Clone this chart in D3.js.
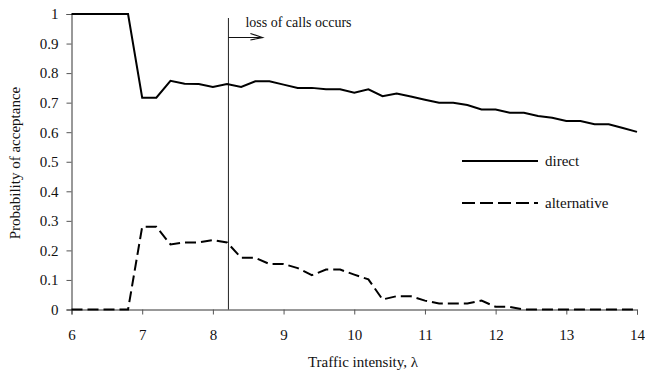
<!DOCTYPE html>
<html>
<head>
<meta charset="utf-8">
<script src="https://cdn.jsdelivr.net/npm/d3@7"></script>
<style>
  body { margin: 0; background: #fff; }
  text { font-family: "Liberation Serif", "DejaVu Serif", serif; fill: #111; }
</style>
</head>
<body>
<div id="chart"></div>
<script>
// traffic intensity values (lambda)
var lambdas = [6.0, 6.2, 6.4, 6.6, 6.8, 7.0, 7.2, 7.4, 7.6, 7.8, 8.0, 8.2, 8.4, 8.6, 8.8,
    9.0, 9.2, 9.4, 9.6, 9.8, 10.0, 10.2, 10.4, 10.6, 10.8, 11.0, 11.2, 11.4, 11.6, 11.8,
    12.0, 12.2, 12.4, 12.6, 12.8, 13.0, 13.2, 13.4, 13.6, 13.8, 14.0];

// probability of acceptance, direct route
var direct = [1, 1, 1, 1, 1, 0.717, 0.717, 0.774, 0.764, 0.763, 0.753, 0.763, 0.753, 0.772, 0.772,
    0.761, 0.750, 0.750, 0.745, 0.745, 0.734, 0.745, 0.722, 0.731, 0.721, 0.710, 0.700, 0.700, 0.692, 0.677,
    0.677, 0.666, 0.666, 0.655, 0.649, 0.638, 0.638, 0.627, 0.627, 0.614, 0.601];

// probability of acceptance, alternative route
var alternative = [0, 0, 0, 0, 0, 0.28, 0.28, 0.22, 0.227, 0.227, 0.235, 0.227, 0.175, 0.175, 0.154,
    0.154, 0.14, 0.116, 0.135, 0.135, 0.118, 0.102, 0.034, 0.045, 0.045, 0.03, 0.02, 0.02, 0.02, 0.03,
    0.009, 0.009, 0, 0, 0, 0, 0, 0, 0, 0, 0];

var xTicks = [6, 7, 8, 9, 10, 11, 12, 13, 14];
var yTicks = [0, 0.1, 0.2, 0.3, 0.4, 0.5, 0.6, 0.7, 0.8, 0.9, 1];
var lossStart = 8.22;

var svgWidth = 645;
var svgHeight = 381;

var margin = { top: 14, right: 8, bottom: 71.5, left: 71.5 };
var width = svgWidth - margin.left - margin.right;
var height = svgHeight - margin.top - margin.bottom;

var svg = d3.select("#chart")
    .append("svg")
    .attr("width", svgWidth)
    .attr("height", svgHeight);

var chartGroup = svg.append("g")
    .attr("transform", `translate(${margin.left}, ${margin.top})`);

// scales
var xScale = d3.scaleLinear().domain([6, 14]).range([0, width]);
var yScale = d3.scaleLinear().domain([0, 1]).range([height, 0]);

// x axis
var xAxis = chartGroup.append("g")
    .attr("transform", `translate(0, ${height})`)
    .call(d3.axisBottom(xScale).tickValues(xTicks).tickFormat(d3.format("d")).tickSize(5).tickPadding(15));

// y axis
var yAxis = chartGroup.append("g")
    .call(d3.axisLeft(yScale).tickValues(yTicks).tickFormat(d => d === 0 || d === 1 ? d : d3.format(".1f")(d)).tickSize(5).tickPadding(8));

[xAxis, yAxis].forEach(function(ax) {
    ax.select(".domain").attr("stroke", "#333").attr("stroke-width", 1);
    ax.selectAll(".tick line").attr("stroke", "#555");
    ax.selectAll("text")
        .style("font-family", "Liberation Serif, serif")
        .style("font-size", "15px")
        .attr("fill", "#111");
});

// vertical marker where loss of calls begins
chartGroup.append("line")
    .attr("x1", xScale(lossStart))
    .attr("x2", xScale(lossStart))
    .attr("y1", 4)
    .attr("y2", height)
    .attr("stroke", "#222")
    .attr("stroke-width", 1);

// arrow
chartGroup.append("line")
    .attr("x1", xScale(lossStart))
    .attr("x2", xScale(lossStart) + 33)
    .attr("y1", 23.5)
    .attr("y2", 23.5)
    .attr("stroke", "#111")
    .attr("stroke-width", 1.2);

chartGroup.append("path")
    .attr("d", `M${xScale(lossStart) + 22},19.5 L${xScale(lossStart) + 34},23.5 L${xScale(lossStart) + 22},26`)
    .attr("fill", "none")
    .attr("stroke", "#111")
    .attr("stroke-width", 1.2);

chartGroup.append("text")
    .attr("x", xScale(lossStart) + 17)
    .attr("y", 12.5)
    .style("font-size", "14px")
    .text("loss of calls occurs");

// lines
var lineGen = d3.line()
    .x(d => xScale(d[0]))
    .y(d => yScale(d[1]));

chartGroup.append("path")
    .datum(d3.zip(lambdas, direct))
    .attr("d", lineGen)
    .attr("fill", "none")
    .attr("stroke", "#000")
    .attr("stroke-width", 2);

chartGroup.append("path")
    .datum(d3.zip(lambdas, alternative))
    .attr("d", lineGen)
    .attr("fill", "none")
    .attr("stroke", "#000")
    .attr("stroke-width", 2)
    .attr("stroke-dasharray", "11,5");

// legend
var legend = svg.append("g");

legend.append("line")
    .attr("x1", 462).attr("x2", 538)
    .attr("y1", 161).attr("y2", 161)
    .attr("stroke", "#000").attr("stroke-width", 2);

legend.append("text")
    .attr("x", 545).attr("y", 166)
    .style("font-size", "15px")
    .text("direct");

legend.append("line")
    .attr("x1", 462).attr("x2", 538)
    .attr("y1", 203).attr("y2", 203)
    .attr("stroke", "#000").attr("stroke-width", 2)
    .attr("stroke-dasharray", "13,5");

legend.append("text")
    .attr("x", 545).attr("y", 208)
    .style("font-size", "15px")
    .text("alternative");

// axis labels
svg.append("text")
    .attr("x", 363)
    .attr("y", 367)
    .attr("text-anchor", "middle")
    .style("font-size", "15px")
    .text("Traffic intensity,  λ");

svg.append("text")
    .attr("transform", "rotate(-90)")
    .attr("x", -163)
    .attr("y", 20)
    .attr("text-anchor", "middle")
    .style("font-size", "15px")
    .text("Probability of acceptance");
</script>
</body>
</html>
